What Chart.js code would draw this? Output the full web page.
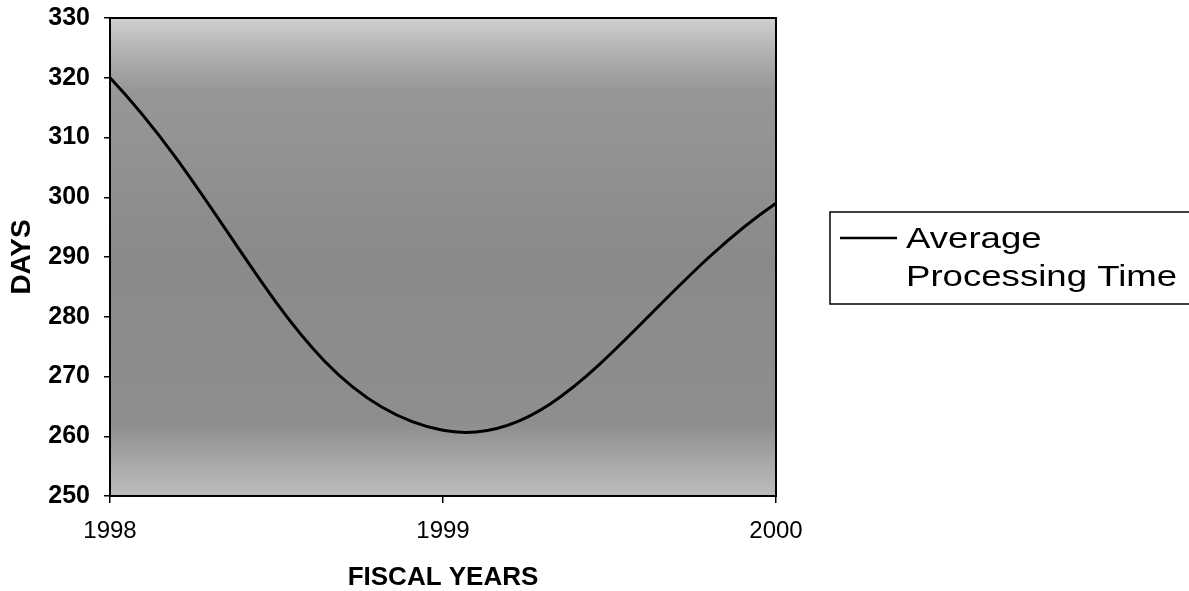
<!DOCTYPE html>
<html>
<head>
<meta charset="utf-8">
<script src="https://cdn.jsdelivr.net/npm/chart.js@4.4.1/dist/chart.umd.min.js"></script>
<style>
  html, body { margin: 0; padding: 0; background: #fff; }
  #wrap { width: 1189px; height: 591px; }
</style>
</head>
<body>
<div id="wrap"><canvas id="chart"></canvas></div>
<script>
// values
const years = ['1998', '1999', '2000'];
const processingDays = [320, 261, 299];
const seriesLabel = 'Average Processing Time';
const legendLines = ['Average', 'Processing Time'];

const FONT = '"Liberation Sans", Arial, sans-serif';

// grey backdrop of the plot and the black frame round it
const plotFrame = {
  id: 'plotFrame',
  beforeDraw(chart) {
    const ctx = chart.ctx;
    const a = chart.chartArea;
    const g = ctx.createLinearGradient(0, a.top, 0, a.bottom);
    g.addColorStop(0, '#d0d0d0');
    g.addColorStop(0.07, '#b2b2b2');
    g.addColorStop(0.15, '#979797');
    g.addColorStop(0.5, '#8a8a8a');
    g.addColorStop(0.85, '#8e8e8e');
    g.addColorStop(0.94, '#ababab');
    g.addColorStop(1, '#bdbdbd');
    ctx.save();
    ctx.fillStyle = g;
    ctx.fillRect(a.left, a.top, a.right - a.left, a.bottom - a.top);
    ctx.restore();
  },
  afterDatasetsDraw(chart) {
    const ctx = chart.ctx;
    const a = chart.chartArea;
    ctx.save();
    ctx.strokeStyle = '#000';
    ctx.lineWidth = 2;
    ctx.strokeRect(a.left, a.top, a.right - a.left, a.bottom - a.top);
    ctx.restore();
  }
};

// boxed legend to the right of the plot, like the excel one
const boxLegend = {
  id: 'boxLegend',
  afterDraw(chart) {
    const ctx = chart.ctx;
    const a = chart.chartArea;
    const ds = chart.data.datasets[0];
    const x0 = a.right + 54;
    const y0 = a.top + 194;
    ctx.save();
    ctx.strokeStyle = '#000';
    ctx.lineWidth = 1.5;
    ctx.strokeRect(x0, y0, chart.width - x0 + 5, 92);
    // line sample
    ctx.strokeStyle = ds.borderColor;
    ctx.lineWidth = 2.5;
    ctx.beginPath();
    ctx.moveTo(x0 + 10, y0 + 26);
    ctx.lineTo(x0 + 67, y0 + 26);
    ctx.stroke();
    // text, stretched sideways as in the scan
    ctx.fillStyle = '#000';
    ctx.font = '30px ' + FONT;
    ctx.textBaseline = 'alphabetic';
    legendLines.forEach((t, i) => {
      ctx.save();
      ctx.translate(x0 + 76, y0 + 36 + i * 38);
      ctx.scale(1.22, 1);
      ctx.fillText(t, 0, 0);
      ctx.restore();
    });
    ctx.restore();
  }
};

const config = {
  type: 'line',
  data: {
    labels: years,
    datasets: [{
      label: seriesLabel,
      data: processingDays,
      borderColor: '#000',
      borderWidth: 3,
      pointRadius: 0,
      tension: 0.4,
      fill: false
    }]
  },
  options: {
    responsive: true,
    maintainAspectRatio: false,
    devicePixelRatio: 1,
    animation: false,
    layout: {
      padding: { top: 18, right: 413, left: 0, bottom: 0 }
    },
    plugins: {
      legend: { display: false },
      tooltip: { enabled: false }
    },
    scales: {
      x: {
        offset: false,
        grid: {
          drawOnChartArea: false,
          drawTicks: true,
          tickLength: 7,
          color: '#000',
          lineWidth: 1.5
        },
        border: { display: true, color: '#000', width: 2 },
        ticks: {
          color: '#000',
          padding: 14,
          maxRotation: 0,
          font: { family: FONT, size: 24 }
        },
        title: {
          display: true,
          text: 'FISCAL YEARS',
          color: '#000',
          padding: { top: 0, bottom: 0 },
          font: { family: FONT, size: 26, weight: 'bold', lineHeight: 1 }
        },
        afterFit(scale) { scale.height = 95; }
      },
      y: {
        min: 250,
        max: 330,
        grid: {
          drawOnChartArea: false,
          drawTicks: true,
          tickLength: 6,
          color: '#000',
          lineWidth: 1.5
        },
        border: { display: true, color: '#000', width: 2 },
        ticks: {
          stepSize: 10,
          color: '#000',
          padding: 14,
          // small line height so the top label does not push the plot down
          font: { family: FONT, size: 25, weight: 'bold', lineHeight: 0.3 }
        },
        title: {
          display: true,
          text: 'DAYS',
          color: '#000',
          padding: { top: 8, bottom: 0 },
          font: { family: FONT, size: 28, weight: 'bold', lineHeight: 1 }
        },
        afterFit(scale) { scale.width = 110; }
      }
    }
  },
  plugins: [plotFrame, boxLegend]
};

new Chart(document.getElementById('chart'), config);
</script>
</body>
</html>
